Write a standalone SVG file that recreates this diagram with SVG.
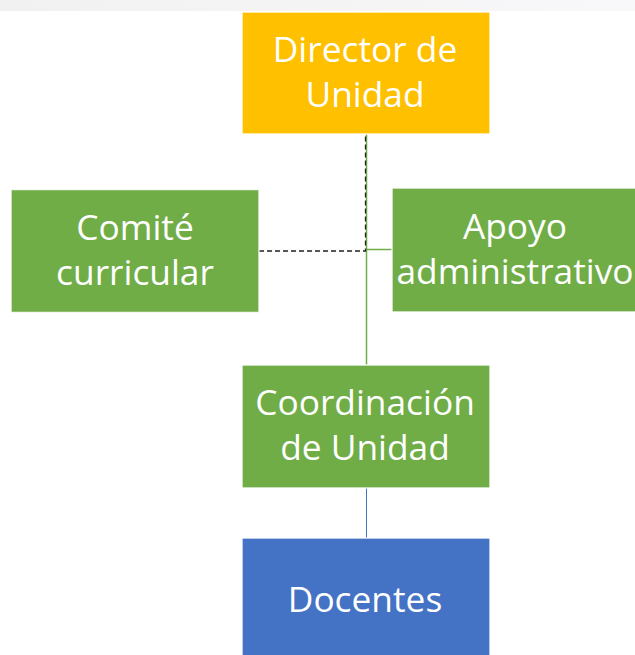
<svg xmlns="http://www.w3.org/2000/svg" width="635" height="655" viewBox="0 0 635 655">
<defs>
<linearGradient id="band" x1="0" y1="0" x2="1" y2="0">
<stop offset="0" stop-color="#f1f1f1"/>
<stop offset="1" stop-color="#f8f8fa"/>
</linearGradient>
</defs>
<style>
.box{stroke:#ffffff;stroke-width:1.5;stroke-opacity:0.85}
.t{font-family:"Open Sans","Noto Sans",sans-serif;font-size:35.3px;fill:#ffffff;text-anchor:middle}
.g{fill:#70ad47}
</style>
<rect x="0" y="0" width="635" height="655" fill="#ffffff"/>
<rect x="0" y="0" width="635" height="11" fill="url(#band)"/>
<g id="connectors" fill="none">
<line x1="366.5" y1="134" x2="366.5" y2="365" stroke="#70ad47" stroke-width="1.5"/>
<line x1="366.5" y1="249.5" x2="392" y2="249.5" stroke="#70ad47" stroke-width="1.5"/>
<polyline points="259,251 365.5,251 365.5,134" stroke="#222222" stroke-width="1.3" stroke-dasharray="5,3"/>
<line x1="366.5" y1="488" x2="366.5" y2="538" stroke="#4472c4" stroke-width="1"/>
</g>
<g id="director">
<rect class="box" x="242" y="12" width="248" height="122" fill="#ffc000"/>
<text class="t" x="365" y="62">Director de</text>
<text class="t" x="365" y="107">Unidad</text>
</g>
<g id="comite">
<rect class="box g" x="11" y="189.5" width="248" height="123"/>
<text class="t" x="135" y="240">Comité</text>
<text class="t" x="135" y="285">curricular</text>
</g>
<g id="apoyo">
<rect class="box g" x="392" y="188" width="250" height="124"/>
<text class="t" x="515" y="239">Apoyo</text>
<text class="t" x="515" y="284">administrativo</text>
</g>
<g id="coordinacion">
<rect class="box g" x="242" y="365" width="248" height="123"/>
<text class="t" x="365" y="415">Coordinación</text>
<text class="t" x="365" y="460">de Unidad</text>
</g>
<g id="docentes">
<rect class="box" x="242" y="538" width="248" height="125" fill="#4472c4"/>
<text class="t" x="365" y="612">Docentes</text>
</g>
</svg>
